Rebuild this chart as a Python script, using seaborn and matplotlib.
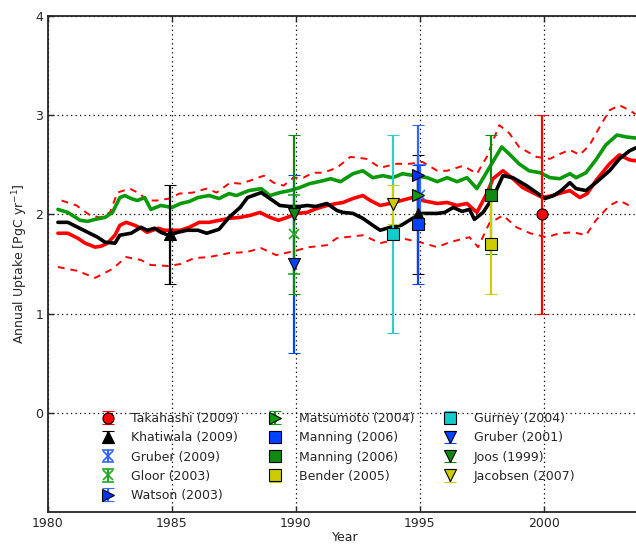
import numpy as np
import pandas as pd
import seaborn as sns
import matplotlib.pyplot as plt

# ocean uptake series
takahashi_line_year = [1980.4, 1980.8, 1981.2, 1981.5, 1981.9, 1982.15, 1982.4, 1982.7, 1982.9, 1983.15,
                       1983.5, 1983.75, 1984.0, 1984.45, 1984.7, 1985.05, 1985.35, 1985.7, 1986.1, 1986.5,
                       1986.9, 1987.3, 1987.75, 1988.15, 1988.55, 1988.95, 1989.3, 1989.65, 1990.05, 1990.45,
                       1990.85, 1991.25, 1991.65, 1991.9, 1992.3, 1992.7, 1993.0, 1993.4, 1993.8, 1994.25,
                       1994.7, 1995.1, 1995.7, 1996.1, 1996.5, 1996.9, 1997.3, 1997.7, 1997.95, 1998.35,
                       1998.75, 1999.15, 1999.55, 1999.95, 2000.35, 2000.75, 2001.05, 2001.45, 2001.75, 2002.1,
                       2002.65, 2003.05, 2003.45, 2003.7]
takahashi_line_val = [1.81, 1.81, 1.76, 1.71, 1.67, 1.68, 1.71, 1.79, 1.89, 1.92,
                      1.89, 1.86, 1.82, 1.86, 1.84, 1.84, 1.84, 1.87, 1.92, 1.92,
                      1.94, 1.96, 1.97, 1.99, 2.02, 1.97, 1.94, 1.97, 2.01, 2.02,
                      2.06, 2.09, 2.11, 2.12, 2.16, 2.19, 2.14, 2.09, 2.11, 2.14,
                      2.17, 2.14, 2.11, 2.12, 2.09, 2.11, 2.02, 2.21, 2.36, 2.44,
                      2.36, 2.27, 2.22, 2.17, 2.19, 2.22, 2.24, 2.17, 2.21, 2.34,
                      2.51, 2.60, 2.55, 2.54]

upper_year = [1980.55, 1981.15, 1981.7, 1982.1, 1982.5, 1982.8, 1983.3, 1983.7, 1984.0, 1984.4,
              1984.9, 1985.3, 1985.85, 1986.4, 1986.8, 1987.35, 1987.75, 1988.15, 1988.7, 1989.1,
              1989.5, 1989.9, 1990.3, 1990.7, 1991.1, 1991.65, 1992.2, 1992.85, 1993.4, 1994.05,
              1994.6, 1995.1, 1995.7, 1996.1, 1996.75, 1997.3, 1997.7, 1998.2, 1998.6, 1999.0,
              1999.7, 2000.25, 2000.65, 2001.05, 2001.45, 2001.85, 2002.25, 2002.65, 2003.05, 2003.45,
              2003.7]
upper_val = [2.14, 2.09, 1.99, 1.97, 2.02, 2.22, 2.26, 2.21, 2.14, 2.14,
             2.16, 2.21, 2.22, 2.26, 2.22, 2.32, 2.31, 2.34, 2.39, 2.32,
             2.29, 2.37, 2.37, 2.42, 2.42, 2.47, 2.58, 2.56, 2.47, 2.51,
             2.51, 2.53, 2.44, 2.44, 2.49, 2.41, 2.58, 2.90, 2.82, 2.68,
             2.58, 2.56, 2.61, 2.65, 2.60, 2.70, 2.88, 3.05, 3.10, 3.05,
             3.01]

lower_year = [1980.4, 1981.2, 1981.9, 1982.6, 1983.15, 1983.75, 1984.15, 1984.85, 1985.35, 1985.9,
              1986.5, 1987.3, 1988.0, 1988.6, 1989.2, 1989.75, 1990.55, 1991.25, 1991.65, 1992.7,
              1993.4, 1994.25, 1995.0, 1995.7, 1996.2, 1997.0, 1997.35, 1997.8, 1998.35, 1998.9,
              1999.45, 2000.1, 2000.65, 2001.2, 2001.7, 2002.1, 2002.65, 2003.05, 2003.6]
lower_val = [1.47, 1.43, 1.36, 1.45, 1.57, 1.54, 1.49, 1.48, 1.50, 1.56,
             1.57, 1.61, 1.62, 1.66, 1.59, 1.62, 1.67, 1.69, 1.76, 1.79,
             1.71, 1.76, 1.72, 1.67, 1.72, 1.77, 1.67, 1.91, 1.99, 1.87,
             1.81, 1.77, 1.81, 1.82, 1.79, 1.94, 2.09, 2.14, 2.07]

khatiwala_line_year = [1980.4, 1980.8, 1981.2, 1981.6, 1982.0, 1982.3, 1982.7, 1982.9, 1983.35, 1983.75,
                       1984.0, 1984.3, 1984.55, 1984.85, 1985.25, 1985.6, 1986.05, 1986.4, 1986.9, 1987.3,
                       1987.75, 1988.05, 1988.6, 1988.95, 1989.35, 1989.75, 1990.15, 1990.45, 1990.8, 1991.25,
                       1991.65, 1991.9, 1992.3, 1992.7, 1993.1, 1993.4, 1993.8, 1994.25, 1994.7, 1995.1,
                       1995.7, 1996.0, 1996.35, 1996.7, 1997.0, 1997.2, 1997.55, 1997.95, 1998.35, 1998.75,
                       1999.3, 1999.7, 2000.05, 2000.4, 2000.7, 2001.05, 2001.3, 2001.7, 2002.1, 2002.65,
                       2003.05, 2003.45, 2003.7]
khatiwala_line_val = [1.92, 1.92, 1.87, 1.82, 1.77, 1.72, 1.71, 1.79, 1.81, 1.87,
                      1.84, 1.86, 1.82, 1.79, 1.82, 1.84, 1.84, 1.81, 1.85, 1.97,
                      2.07, 2.17, 2.22, 2.16, 2.09, 2.08, 2.08, 2.09, 2.08, 2.11,
                      2.04, 2.02, 2.01, 1.96, 1.89, 1.84, 1.87, 1.89, 1.96, 2.01,
                      2.01, 2.02, 2.07, 2.03, 2.05, 1.95, 2.02, 2.17, 2.39, 2.37,
                      2.29, 2.22, 2.16, 2.19, 2.24, 2.32, 2.26, 2.24, 2.32, 2.44,
                      2.56, 2.64, 2.67]

green_line_year = [1980.4, 1980.8, 1981.3, 1981.6, 1981.9, 1982.3, 1982.6, 1982.9, 1983.1, 1983.35,
                   1983.6, 1983.9, 1984.15, 1984.55, 1985.0, 1985.35, 1985.7, 1986.05, 1986.5, 1986.9,
                   1987.3, 1987.6, 1988.1, 1988.6, 1988.95, 1989.35, 1989.75, 1990.15, 1990.55, 1991.1,
                   1991.4, 1991.8, 1992.3, 1992.7, 1993.1, 1993.5, 1993.9, 1994.3, 1994.8, 1995.3,
                   1995.7, 1996.1, 1996.5, 1996.9, 1997.3, 1997.8, 1998.3, 1998.6, 1999.0, 1999.4,
                   1999.85, 2000.25, 2000.65, 2001.05, 2001.3, 2001.7, 2002.1, 2002.5, 2002.95, 2003.35,
                   2003.7]
green_line_val = [2.05, 2.02, 1.94, 1.93, 1.95, 1.97, 2.02, 2.17, 2.19, 2.16,
                  2.14, 2.17, 2.05, 2.09, 2.07, 2.11, 2.13, 2.17, 2.19, 2.16,
                  2.21, 2.19, 2.24, 2.26, 2.19, 2.22, 2.24, 2.27, 2.31, 2.34,
                  2.36, 2.33, 2.41, 2.44, 2.37, 2.39, 2.37, 2.41, 2.39, 2.37,
                  2.33, 2.37, 2.33, 2.37, 2.26, 2.47, 2.68, 2.61, 2.51, 2.44,
                  2.42, 2.37, 2.36, 2.41, 2.37, 2.42, 2.55, 2.70, 2.80, 2.78,
                  2.77]

# individual estimates: label, year, value, error
obs_labels = ['Takahashi (2009)', 'Khatiwala (2009)', 'Gruber (2009)', 'Gloor (2003)', 'Watson (2003)',
              'Matsumoto (2004)', 'Manning (2006)', 'Manning (2006)', 'Bender (2005)',
              'Gurney (2004)', 'Gruber (2001)', 'Joos (1999)', 'Jacobsen (2007)']
obs_years = [[1999.92], [1984.92, 1994.92], [1995.0], [1989.92], [1994.92],
             [1994.92], [1994.92], [1997.88], [1997.88],
             [1993.92], [1989.92], [1989.92], [1993.92]]
obs_values = [[2.0], [1.8, 2.0], [2.2], [1.8], [2.4],
              [2.2], [1.9], [2.2], [1.7],
              [1.8], [1.5], [2.0], [2.1]]
obs_errors = [[1.0], [0.5, 0.6], [0.3], [0.4], [0.5],
              [0.2], [0.6], [0.6], [0.5],
              [1.0], [0.9], [0.8], [0.2]]

# marker, face colour, bar colour
obs_styles = [('o', '#ff0000', '#ff0000'), ('^', '#000000', '#000000'), ('x', '#3366ff', '#3366ff'),
              ('x', '#22aa22', '#22aa22'), ('>', '#0033ff', '#3366ff'),
              ('>', '#119911', '#119911'), ('s', '#0044ff', '#0044ff'), ('s', '#118811', '#118811'),
              ('s', '#cccc00', '#cccc00'), ('s', '#11cccc', '#33cccc'), ('v', '#0044ff', '#0044ff'),
              ('v', '#118811', '#118811'), ('v', '#cccc00', '#cccc00')]

sns.set_style("ticks")
plt.rcParams['font.family'] = ['DejaVu Sans']
plt.rcParams['font.size'] = 9

fig = plt.figure(figsize=(6.36, 5.45), dpi=100)
ax = fig.add_axes([48 / 636, 33 / 545, 595 / 636, 496 / 545])

red_df = pd.DataFrame({'year': takahashi_line_year, 'uptake': takahashi_line_val})
up_df = pd.DataFrame({'year': upper_year, 'uptake': upper_val})
lo_df = pd.DataFrame({'year': lower_year, 'uptake': lower_val})
blk_df = pd.DataFrame({'year': khatiwala_line_year, 'uptake': khatiwala_line_val})
grn_df = pd.DataFrame({'year': green_line_year, 'uptake': green_line_val})

dash = (0, (3.5, 3))
sns.lineplot(data=up_df, x='year', y='uptake', ax=ax, color='#ff0000', lw=1.4, linestyle=dash)
sns.lineplot(data=lo_df, x='year', y='uptake', ax=ax, color='#ff0000', lw=1.4, linestyle=dash)
sns.lineplot(data=red_df, x='year', y='uptake', ax=ax, color='#ff0000', lw=2.6)
sns.lineplot(data=grn_df, x='year', y='uptake', ax=ax, color='#0a990a', lw=2.6)
sns.lineplot(data=blk_df, x='year', y='uptake', ax=ax, color='#000000', lw=2.6)

for lab, xs, ys, es, (mk, fc, bc) in zip(obs_labels, obs_years, obs_values, obs_errors, obs_styles):
    if mk == 'x':
        ax.errorbar(xs, ys, yerr=es, fmt=mk, color=bc, mec=fc, mew=1.2, ms=7,
                    elinewidth=1.6, capsize=4, capthick=1.3, label=lab)
    else:
        ax.errorbar(xs, ys, yerr=es, fmt=mk, color=bc, mfc=fc, mec='k', mew=0.8, ms=8,
                    elinewidth=1.6, capsize=4, capthick=1.3, label=lab)

ax.set_xlim(1980, 2004)
ax.set_ylim(-1, 4)
ax.set_xticks([1980, 1985, 1990, 1995, 2000])
ax.set_yticks([0, 1, 2, 3, 4])
ax.grid(True, color='k', linestyle=(0, (1, 2.6)), lw=0.9)
ax.tick_params(direction='in', top=True, right=True, length=4, width=1, labelsize=9)
for s in ax.spines.values():
    s.set_linewidth(1.3)
ax.set_xlabel('Year', fontsize=9, labelpad=1)
ax.set_ylabel('Annual Uptake [PgC yr$^{-1}$]', fontsize=9)

ax.legend(loc='lower center', bbox_to_anchor=(0.483, 0.0), ncol=3, frameon=False, numpoints=1,
          fontsize=9, columnspacing=1.9, handletextpad=0.9, handlelength=2.0, labelspacing=0.5,
          borderaxespad=0.4)

fig.savefig('out.png', dpi=100)
